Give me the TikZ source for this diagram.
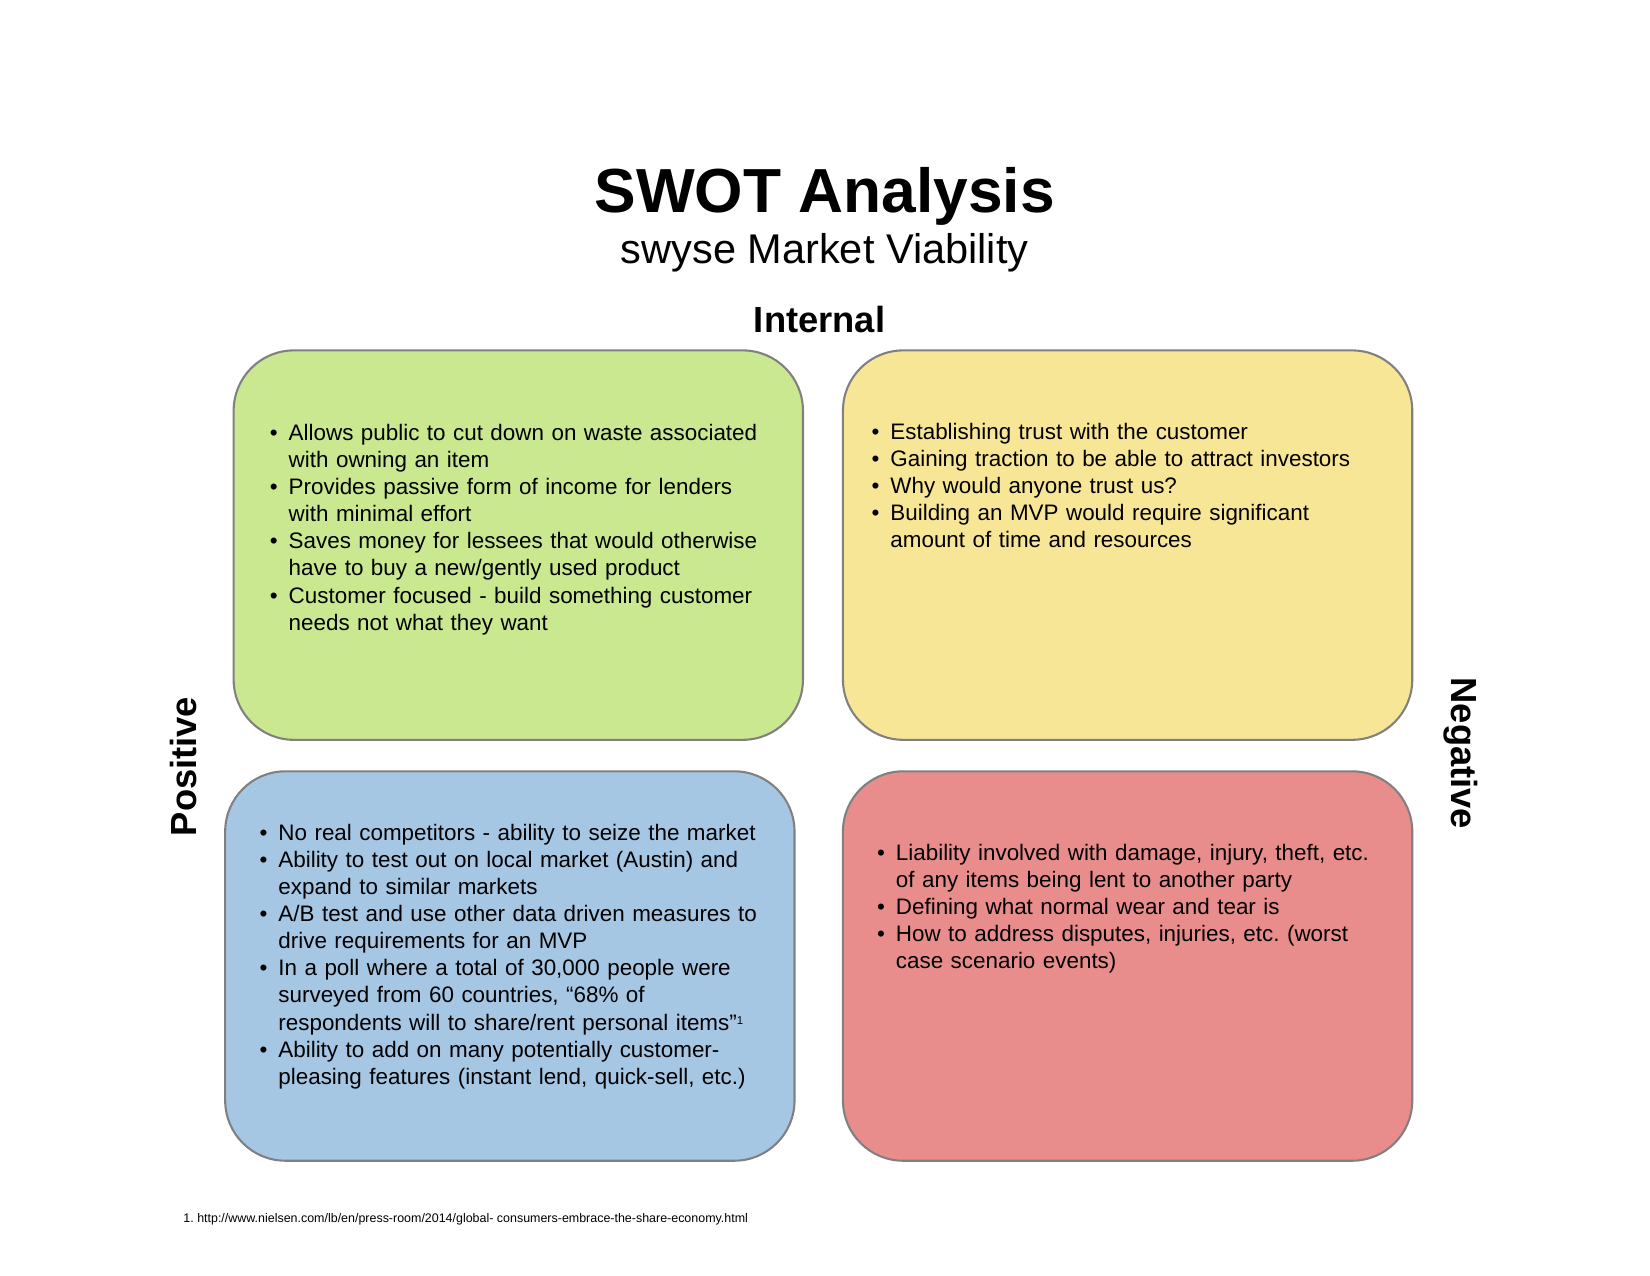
\documentclass[tikz,border=0pt]{standalone}
\usepackage{fontspec}
\setmainfont{Liberation Sans}
\usepackage{xcolor}
\usepackage{tikz}
\usetikzlibrary{positioning}
\definecolor{sgreen}{HTML}{C9E890}
\definecolor{wyellow}{HTML}{F8E697}
\definecolor{oblue}{HTML}{A6C7E4}
\definecolor{tred}{HTML}{E88D8B}
\definecolor{edgegrey}{HTML}{808080}
\newcommand\bul{\leavevmode\llap{\textbullet\hspace{5.3pt}}}
\newcommand\srcmark[1]{\raisebox{2.6pt}{\fontsize{5.5}{6}\selectfont #1}}
\frenchspacing

\begin{document}
\begin{tikzpicture}[x=0.16933mm,y=-0.16933mm,
  quad/.style={rectangle,rounded corners=10.2mm,minimum width=96.4mm,minimum height=65.94mm,
    draw=edgegrey,line width=1pt,inner sep=0pt},
  items/.style={anchor=base west,text width=14cm,align=left,inner sep=0pt,
    font=\fontsize{10.8}{13.05}\selectfont},
  hdr/.style={anchor=base,inner sep=0pt,font=\fontsize{17.5}{21}\selectfont\bfseries}]
  \useasboundingbox (0,0) rectangle (1650,1275);
  % headings
  \node[anchor=base,inner sep=0pt,font=\fontsize{30}{36}\selectfont\bfseries] (title) at (824.7,212.7) {SWOT Analysis};
  \node[anchor=base,inner sep=0pt,font=\fontsize{20}{24}\selectfont] (sub) at (824.7,263) {swyse Market Viability};
  \node[hdr] (int) at (819.5,332.7) {Internal};
  \node[hdr,rotate=90] (pos) at (196.7,766.5) {Positive};
  \node[hdr,rotate=-90] (neg) at (1451.7,753.3) {Negative};
  % the four quadrants
  \node[quad,fill=sgreen] (S) at (518.3,545.1) {};
  \node[quad,fill=wyellow,right=6.42mm of S] (W) {};
  \node[quad,fill=oblue] (O) at (509.85,966) {};
  \node[quad,fill=tred,below=4.98mm of W] (T) {};
  % bullet lists
  \node[items] (Stxt) at (288.3,440.5) {\bul Allows public to cut down on waste associated\\
    with owning an item\\
    \bul Provides passive form of income for lenders\\
    with minimal effort\\
    \bul Saves money for lessees that would otherwise\\
    have to buy a new/gently used product\\
    \bul Customer focused - build something customer\\
    needs not what they want};
  \node[items] (Wtxt) at (890,439.5) {\bul Establishing trust with the customer\\
    \bul Gaining traction to be able to attract investors\\
    \bul Why would anyone trust us?\\
    \bul Building an MVP would require significant\\
    amount of time and resources};
  \node[items] (Otxt) at (278,840.4) {\bul No real competitors - ability to seize the market\\
    \bul Ability to test out on local market (Austin) and\\
    expand to similar markets\\
    \bul A/B test and use other data driven measures to\\
    drive requirements for an MVP\\
    \bul In a poll where a total of 30,000 people were\\
    surveyed from 60 countries, “68\% of\\
    respondents will to share/rent personal items”\srcmark{1}\\
    \bul Ability to add on many potentially customer-\\
    pleasing features (instant lend, quick-sell, etc.)};
  \node[items] (Ttxt) at (895.5,860.4) {\bul Liability involved with damage, injury, theft, etc.\\
    of any items being lent to another party\\
    \bul Defining what normal wear and tear is\\
    \bul How to address disputes, injuries, etc. (worst\\
    case scenario events)};
  % source
  \node[anchor=base west,inner sep=0pt,font=\fontsize{6}{7}\selectfont] (note) at (183,1222) {1. http://www.nielsen.com/lb/en/press-room/2014/global- consumers-embrace-the-share-economy.html};
\end{tikzpicture}
\end{document}
